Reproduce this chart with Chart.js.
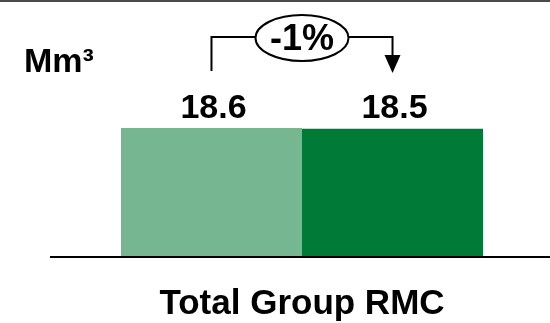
<!DOCTYPE html>
<html>
<head>
<meta charset="utf-8">
<script src="https://cdn.jsdelivr.net/npm/chart.js@4"></script>
<style>
  html, body { margin: 0; padding: 0; background: #fff; }
  #wrap { width: 550px; height: 323px; position: relative; }
</style>
</head>
<body>
<div id="wrap"><canvas id="rmc-chart"></canvas></div>
<script>
const categories = ['Total Group RMC'];
const seriesNames = ['Prior period', 'Current period'];
const priorValues = [18.6];
const currentValues = [18.5];
const seriesColors = ['#76B792', '#007A37'];
const unitLabel = 'Mm³';
const changeLabel = '-1%';

const FONT = 'bold {size}px "Liberation Sans", Arial, sans-serif';

function boldText(ctx, text, x, y, size, align) {
  ctx.save();
  ctx.font = FONT.replace('{size}', size);
  ctx.fillStyle = '#000';
  ctx.textAlign = align;
  ctx.textBaseline = 'alphabetic';
  ctx.fillText(text, x, y);
  ctx.restore();
}

// frame line, baseline, labels and the change bracket
const decorations = {
  id: 'decorations',
  afterDraw(chart) {
    const ctx = chart.ctx;
    const x = chart.scales.x;
    const y = chart.scales.y;
    const zeroY = y.getPixelForValue(0);

    ctx.save();
    ctx.fillStyle = '#4a4a4a';
    ctx.fillRect(0, 0, chart.width, 2);

    ctx.strokeStyle = '#000';
    ctx.lineWidth = 2;
    ctx.beginPath();
    ctx.moveTo(50, zeroY);
    ctx.lineTo(chart.width, zeroY);
    ctx.stroke();
    ctx.restore();

    boldText(ctx, unitLabel, 24, 72, 34, 'left');

    const bars = [0, 1].map(i => chart.getDatasetMeta(i).data[0]);
    const values = [priorValues[0], currentValues[0]];
    bars.forEach((bar, i) => {
      boldText(ctx, values[i].toFixed(1), bar.x + 2, 118, 34, 'center');
    });

    boldText(ctx, categories[0], x.getPixelForTick(0), 314, 35, 'center');

    // bracket with the ellipse badge between the two bars
    const x1 = bars[0].x;
    const x2 = bars[1].x;
    const cx = (x1 + x2) / 2;
    const lineY = 37;
    const rx = 46.5, ry = 23;
    ctx.save();
    ctx.strokeStyle = '#000';
    ctx.lineWidth = 2;
    ctx.beginPath();
    ctx.moveTo(x1, 71);
    ctx.lineTo(x1, lineY);
    ctx.lineTo(cx - rx, lineY);
    ctx.moveTo(cx + rx, lineY);
    ctx.lineTo(x2, lineY);
    ctx.lineTo(x2, 58);
    ctx.stroke();
    ctx.beginPath();
    ctx.ellipse(cx, lineY + 1, rx, ry, 0, 0, Math.PI * 2);
    ctx.stroke();
    ctx.fillStyle = '#000';
    ctx.beginPath();
    ctx.moveTo(x2 - 8, 55);
    ctx.lineTo(x2 + 8, 55);
    ctx.lineTo(x2, 73);
    ctx.closePath();
    ctx.fill();
    ctx.restore();

    boldText(ctx, changeLabel, cx, 50, 36, 'center');
  }
};

new Chart(document.getElementById('rmc-chart'), {
  type: 'bar',
  data: {
    labels: categories,
    datasets: [
      { label: seriesNames[0], data: priorValues, backgroundColor: seriesColors[0] },
      { label: seriesNames[1], data: currentValues, backgroundColor: seriesColors[1] }
    ]
  },
  options: {
    responsive: true,
    maintainAspectRatio: false,
    animation: false,
    categoryPercentage: 0.73,
    barPercentage: 1,
    layout: { padding: { left: 54, right: 0, top: 49, bottom: 66 } },
    plugins: { legend: { display: false }, tooltip: { enabled: false } },
    scales: {
      x: { display: false },
      y: { display: false, min: 0, max: 30 }
    }
  },
  plugins: [decorations]
});
</script>
</body>
</html>
